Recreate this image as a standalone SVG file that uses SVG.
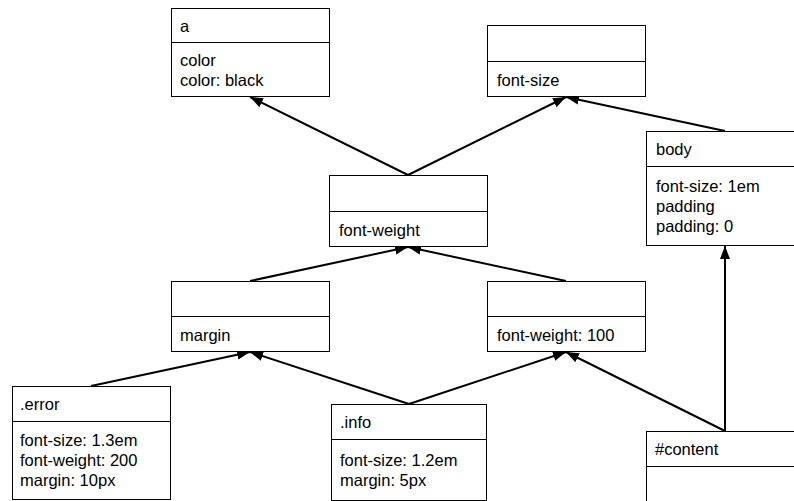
<svg xmlns="http://www.w3.org/2000/svg" width="794" height="501" viewBox="0 0 794 501">
<style>
.box{fill:#fff;stroke:#000;stroke-width:1}
.div{stroke:#000;stroke-width:1}
.t{font-family:"Liberation Sans",Arial,sans-serif;font-size:16.5px;fill:#000}
.edge{stroke:#000;stroke-width:2;fill:none;marker-end:url(#arr)}
</style>
<defs>
<marker id="arr" markerUnits="userSpaceOnUse" markerWidth="14" markerHeight="12" refX="13" refY="5" orient="auto">
<path d="M0,0 L13,5 L0,10 Z" fill="#000"/>
</marker>
</defs>
<rect width="794" height="501" fill="#fff"/>
<g id="connectors">
<line class="edge" x1="408" y1="175" x2="250" y2="97"/>
<line class="edge" x1="408" y1="175" x2="566" y2="97"/>
<line class="edge" x1="725" y1="131" x2="566" y2="97"/>
<line class="edge" x1="250" y1="281" x2="408" y2="247"/>
<line class="edge" x1="566" y1="281" x2="408" y2="247"/>
<line class="edge" x1="91" y1="386" x2="250" y2="352"/>
<line class="edge" x1="409" y1="404" x2="250" y2="352"/>
<line class="edge" x1="409" y1="404" x2="566" y2="352"/>
<line class="edge" x1="725" y1="431" x2="566" y2="352"/>
<line class="edge" x1="725" y1="431" x2="725" y2="246"/>
</g>
<g id="node-a">
<rect class="box" x="171.5" y="8.5" width="158" height="88"/>
<line class="div" x1="171.5" y1="42.5" x2="329.5" y2="42.5"/>
<text class="t" x="180" y="32">a</text>
<text class="t" x="180" y="66">color</text>
<text class="t" x="180" y="86">color: black</text>
</g>
<g id="node-fontsize">
<rect class="box" x="487.5" y="25.5" width="158" height="71"/>
<line class="div" x1="487.5" y1="61.5" x2="645.5" y2="61.5"/>
<text class="t" x="497" y="86">font-size</text>
</g>
<g id="node-body">
<rect class="box" x="646.5" y="131.5" width="158" height="114"/>
<line class="div" x1="646.5" y1="166.5" x2="804.5" y2="166.5"/>
<text class="t" x="656" y="155">body</text>
<text class="t" x="656" y="192">font-size: 1em</text>
<text class="t" x="656" y="212">padding</text>
<text class="t" x="656" y="232">padding: 0</text>
</g>
<g id="node-fontweight">
<rect class="box" x="329.5" y="175.5" width="158" height="71"/>
<line class="div" x1="329.5" y1="211.5" x2="487.5" y2="211.5"/>
<text class="t" x="339" y="236">font-weight</text>
</g>
<g id="node-margin">
<rect class="box" x="171.5" y="281.5" width="158" height="70"/>
<line class="div" x1="171.5" y1="316.5" x2="329.5" y2="316.5"/>
<text class="t" x="180" y="341">margin</text>
</g>
<g id="node-fw100">
<rect class="box" x="487.5" y="281.5" width="158" height="70"/>
<line class="div" x1="487.5" y1="316.5" x2="645.5" y2="316.5"/>
<text class="t" x="497" y="341">font-weight: 100</text>
</g>
<g id="node-error">
<rect class="box" x="12.5" y="386.5" width="158" height="113"/>
<line class="div" x1="12.5" y1="421.5" x2="170.5" y2="421.5"/>
<text class="t" x="20" y="410">.error</text>
<text class="t" x="20" y="446">font-size: 1.3em</text>
<text class="t" x="20" y="466">font-weight: 200</text>
<text class="t" x="20" y="486">margin: 10px</text>
</g>
<g id="node-info">
<rect class="box" x="331.5" y="404.5" width="155" height="96"/>
<line class="div" x1="331.5" y1="439.5" x2="486.5" y2="439.5"/>
<text class="t" x="340" y="428">.info</text>
<text class="t" x="340" y="466">font-size: 1.2em</text>
<text class="t" x="340" y="486">margin: 5px</text>
</g>
<g id="node-content">
<rect class="box" x="646.5" y="431.5" width="158" height="80"/>
<line class="div" x1="646.5" y1="466.5" x2="804.5" y2="466.5"/>
<text class="t" x="655" y="455">#content</text>
</g>
</svg>
